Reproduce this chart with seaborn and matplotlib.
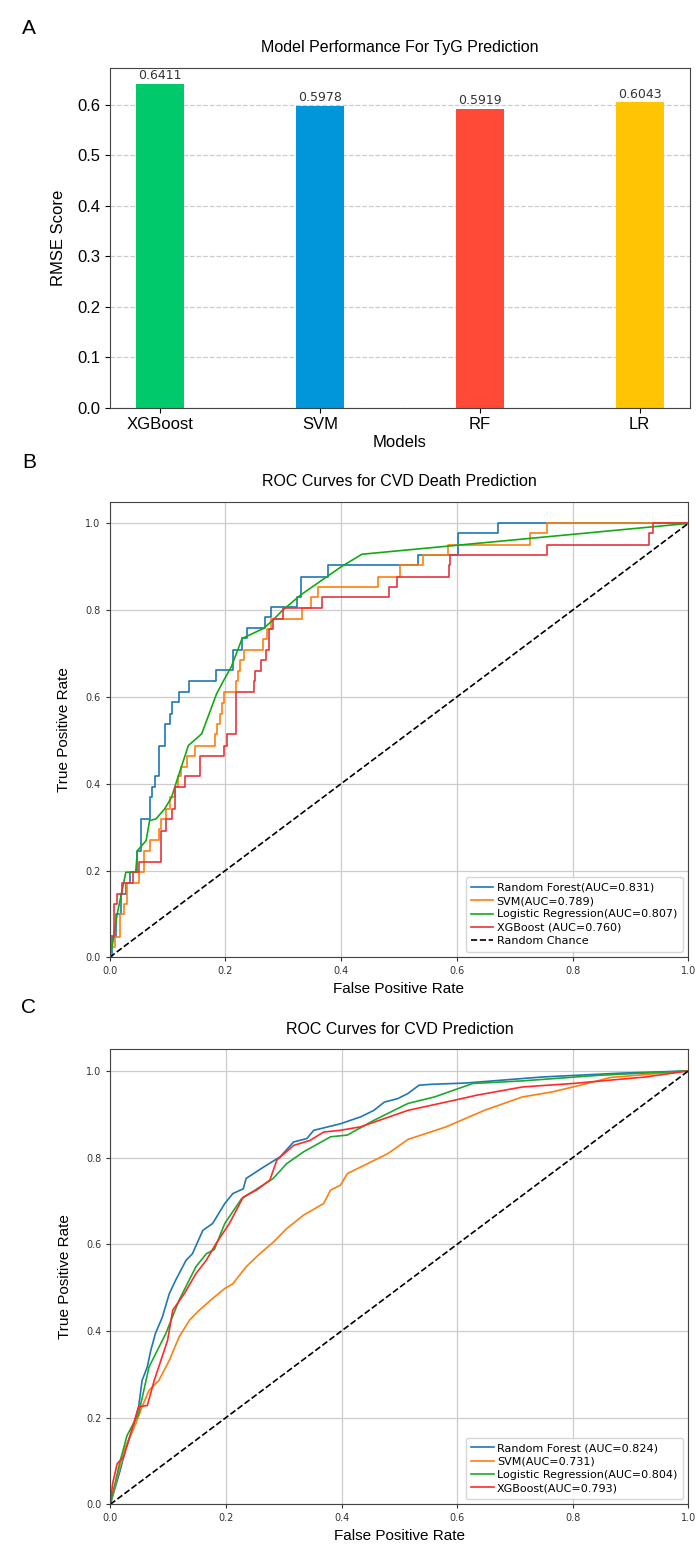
import numpy as np
import matplotlib
matplotlib.use("Agg")
import matplotlib.pyplot as plt
import seaborn as sns

# Panel A data
models = ["XGBoost", "SVM", "RF", "LR"]
rmse = [0.6411, 0.5978, 0.5919, 0.6043]
bar_colors = ["#00c96b", "#0096d9", "#ff4a38", "#ffc404"]

# Panel B data (step ROC curves: riser position / level after it)
b_rf_fpr = [0, 0.0035, 0.0105, 0.019, 0.028, 0.035, 0.047, 0.054, 0.070, 0.073, 0.079, 0.085, 0.086,
            0.095, 0.105, 0.108, 0.120, 0.137, 0.183, 0.213, 0.229, 0.237, 0.268, 0.278, 0.324, 0.330,
            0.377, 0.533, 0.602, 0.672, 1.0]
b_rf_tpr = [0, 0.046, 0.10, 0.146, 0.171, 0.196, 0.246, 0.319, 0.369, 0.392, 0.417, 0.442, 0.488,
            0.538, 0.561, 0.588, 0.612, 0.637, 0.662, 0.708, 0.735, 0.759, 0.785, 0.808, 0.831, 0.877,
            0.904, 0.927, 0.977, 1.0, 1.0]
b_svm_fpr = [0, 0.002, 0.010, 0.017, 0.025, 0.030, 0.051, 0.060, 0.069, 0.086, 0.089, 0.098, 0.105,
             0.1125, 0.118, 0.1225, 0.133, 0.1475, 0.1825, 0.185, 0.191, 0.194, 0.198, 0.2175, 0.222,
             0.226, 0.232, 0.265, 0.272, 0.278, 0.332, 0.348, 0.360, 0.464, 0.501, 0.541, 0.584, 0.726,
             0.756, 1.0]
b_svm_tpr = [0, 0.023, 0.046, 0.10, 0.123, 0.171, 0.196, 0.246, 0.271, 0.296, 0.319, 0.342, 0.369,
             0.392, 0.417, 0.438, 0.463, 0.488, 0.515, 0.538, 0.561, 0.585, 0.612, 0.637, 0.66,
             0.685, 0.708, 0.733, 0.757, 0.78, 0.805, 0.831, 0.853, 0.877, 0.904, 0.927, 0.951, 0.977,
             1.0, 1.0]
b_xgb_fpr = [0, 0.001, 0.0076, 0.012, 0.022, 0.040, 0.051, 0.088, 0.097, 0.107, 0.1125, 0.131, 0.156,
             0.197, 0.202, 0.219, 0.250, 0.252, 0.262, 0.270, 0.276, 0.282, 0.300, 0.367, 0.483, 0.496,
             0.586, 0.589, 0.756, 0.932, 0.940, 1.0]
b_xgb_tpr = [0, 0.05, 0.123, 0.146, 0.171, 0.196, 0.22, 0.292, 0.319, 0.342, 0.392, 0.417, 0.463,
             0.488, 0.515, 0.612, 0.637, 0.66, 0.685, 0.708, 0.757, 0.78, 0.805, 0.831, 0.853, 0.877,
             0.904, 0.927, 0.951, 0.977, 1.0, 1.0]
b_lr_fpr = [0, 0.005, 0.013, 0.028, 0.045, 0.048, 0.063, 0.069, 0.080, 0.095, 0.107, 0.118, 0.136,
            0.159, 0.171, 0.185, 0.197, 0.21, 0.229, 0.266, 0.282, 0.299, 0.33, 0.40, 0.436, 1.0]
b_lr_tpr = [0, 0.031, 0.10, 0.196, 0.196, 0.246, 0.269, 0.315, 0.319, 0.342, 0.369, 0.415, 0.488,
            0.515, 0.558, 0.608, 0.638, 0.669, 0.735, 0.758, 0.777, 0.80, 0.835, 0.90, 0.929, 1.0]

# Panel C data
c_rf_fpr = [0, 0.017, 0.026, 0.038, 0.049, 0.055, 0.064, 0.070, 0.078, 0.090, 0.102, 0.113, 0.131,
            0.142, 0.160, 0.177, 0.198, 0.212, 0.230, 0.235, 0.265, 0.294, 0.317, 0.340, 0.352, 0.398,
            0.433, 0.456, 0.474, 0.497, 0.515, 0.534, 0.554, 0.614, 0.747, 0.886, 1.0]
c_rf_tpr = [0, 0.078, 0.125, 0.171, 0.225, 0.286, 0.317, 0.355, 0.394, 0.432, 0.486, 0.517, 0.563,
            0.578, 0.632, 0.648, 0.694, 0.717, 0.728, 0.752, 0.778, 0.802, 0.836, 0.844, 0.863, 0.878,
            0.894, 0.909, 0.928, 0.936, 0.948, 0.967, 0.969, 0.972, 0.986, 0.995, 1.0]
c_svm_fpr = [0, 0.012, 0.026, 0.044, 0.055, 0.067, 0.084, 0.102, 0.119, 0.137, 0.154, 0.177, 0.198,
             0.212, 0.235, 0.256, 0.282, 0.305, 0.334, 0.369, 0.381, 0.398, 0.410, 0.445, 0.480, 0.515,
             0.581, 0.647, 0.713, 0.766, 0.813, 0.866, 0.912, 1.0]
c_svm_tpr = [0, 0.063, 0.132, 0.186, 0.225, 0.263, 0.286, 0.332, 0.386, 0.425, 0.448, 0.475, 0.498,
             0.509, 0.548, 0.575, 0.605, 0.636, 0.667, 0.694, 0.725, 0.736, 0.763, 0.786, 0.809, 0.842,
             0.871, 0.909, 0.94, 0.952, 0.967, 0.985, 0.99, 1.0]
c_lr_fpr = [0, 0.017, 0.029, 0.049, 0.067, 0.096, 0.119, 0.148, 0.166, 0.180, 0.198, 0.227, 0.282,
            0.305, 0.334, 0.381, 0.410, 0.456, 0.515, 0.561, 0.627, 0.713, 0.846, 1.0]
c_lr_tpr = [0, 0.10, 0.159, 0.209, 0.317, 0.394, 0.471, 0.548, 0.578, 0.588, 0.648, 0.705, 0.752,
            0.786, 0.813, 0.848, 0.852, 0.886, 0.925, 0.94, 0.971, 0.977, 0.99, 1.0]
c_xgb_fpr = [0, 0.004, 0.012, 0.023, 0.035, 0.049, 0.064, 0.076, 0.099, 0.108, 0.128, 0.148, 0.166,
             0.183, 0.206, 0.230, 0.253, 0.276, 0.288, 0.317, 0.346, 0.369, 0.398, 0.433, 0.515, 0.594,
             0.634, 0.713, 0.8, 0.926, 1.0]
c_xgb_tpr = [0, 0.048, 0.094, 0.109, 0.163, 0.225, 0.228, 0.286, 0.378, 0.448, 0.486, 0.532, 0.563,
             0.602, 0.648, 0.709, 0.725, 0.748, 0.794, 0.828, 0.84, 0.859, 0.863, 0.871, 0.909, 0.932,
             0.944, 0.963, 0.971, 0.986, 1.0]

chance = [0, 1]

b_labels = ["Random Forest(AUC=0.831)", "SVM(AUC=0.789)", "Logistic Regression(AUC=0.807)",
            "XGBoost (AUC=0.760)", "Random Chance"]
c_labels = ["Random Forest (AUC=0.824)", "SVM(AUC=0.731)", "Logistic Regression(AUC=0.804)",
            "XGBoost(AUC=0.793)"]

ARIAL = ["Liberation Sans", "DejaVu Sans"]
plt.rcParams["font.family"] = ["DejaVu Sans"]

fig = plt.figure(figsize=(6.96, 15.51), dpi=100)

# ---------------- Panel A ----------------
axA = fig.add_axes([0.1580, 0.7372, 0.8333, 0.2192])
sns.barplot(x=models, y=rmse, hue=models, palette=bar_colors, width=0.3, saturation=1,
            legend=False, ax=axA)
for cont in axA.containers:
    axA.bar_label(cont, fmt="%.4f", fontsize=9, color="#333333", padding=1)
axA.set_xlim(-0.315, 3.315)
axA.set_ylim(0, max(rmse) * 1.05)
axA.yaxis.grid(True, linestyle="--", color="#cccccc", linewidth=0.9)
axA.set_axisbelow(True)
axA.set_title("Model Performance For TyG Prediction", fontsize=11.5, family=ARIAL, pad=11)
axA.set_xlabel("Models", fontsize=12, family=ARIAL, labelpad=2)
axA.set_ylabel("RMSE Score", fontsize=12, family=ARIAL, labelpad=8)
for lab in axA.get_xticklabels() + axA.get_yticklabels():
    lab.set_fontfamily(ARIAL)
    lab.set_fontsize(12)
for sp in axA.spines.values():
    sp.set_color("#444444")

# ---------------- ROC panels ----------------
def style_roc(ax, title):
    ax.set_xlim(0, 1)
    ax.set_ylim(0, 1.05)
    ax.set_xticks(np.arange(0, 1.01, 0.2))
    ax.set_yticks(np.arange(0, 1.01, 0.2))
    ax.grid(True, color="#cccccc", linewidth=0.9)
    ax.set_axisbelow(True)
    ax.tick_params(labelsize=7, length=3, colors="#333333")
    ax.set_title(title, fontsize=11.5, family=ARIAL, pad=11)
    ax.set_xlabel("False Positive Rate", fontsize=11, family=ARIAL)
    ax.set_ylabel("True Positive Rate", fontsize=11, family=ARIAL, labelpad=10)
    for sp in ax.spines.values():
        sp.set_color("#444444")


axB = fig.add_axes([0.1576, 0.3828, 0.8312, 0.2937])
b_curves = [(b_rf_fpr, b_rf_tpr, "#1f77b4", "steps-post"),
            (b_svm_fpr, b_svm_tpr, "#ff7f0e", "steps-post"),
            (b_lr_fpr, b_lr_tpr, "#12aa12", "default"),
            (b_xgb_fpr, b_xgb_tpr, "#e8343c", "steps-post")]
for (fx, ty, col, ds), lab in zip(b_curves, b_labels):
    sns.lineplot(x=fx, y=ty, color=col, estimator=None, sort=False, drawstyle=ds,
                 linewidth=1.2, label=lab, ax=axB)
sns.lineplot(x=chance, y=chance, color="black", linestyle="--", linewidth=1.2,
             estimator=None, label=b_labels[4], ax=axB)
style_roc(axB, "ROC Curves for CVD Death Prediction")
axB.legend(loc="lower right", fontsize=8, handlelength=2.0, borderpad=0.5,
           labelspacing=0.3, handletextpad=0.3)

axC = fig.add_axes([0.1585, 0.0301, 0.8305, 0.2934])
c_curves = [(c_rf_fpr, c_rf_tpr, "#1f77b4"),
            (c_svm_fpr, c_svm_tpr, "#ff7f0e"),
            (c_lr_fpr, c_lr_tpr, "#1ea82e"),
            (c_xgb_fpr, c_xgb_tpr, "#ff2a2a")]
for (fx, ty, col), lab in zip(c_curves, c_labels):
    sns.lineplot(x=fx, y=ty, color=col, estimator=None, sort=False, linewidth=1.2,
                 label=lab, ax=axC)
sns.lineplot(x=chance, y=chance, color="black", linestyle="--", linewidth=1.2,
             estimator=None, ax=axC)
style_roc(axC, "ROC Curves for CVD Prediction")
axC.legend(loc="lower right", fontsize=8, handlelength=2.0, borderpad=0.5,
           labelspacing=0.3, handletextpad=0.3)

# panel letters
for letter, ypix in [("A", 28), ("B", 462), ("C", 1008)]:
    fig.text(29 / 696, 1 - ypix / 1551, letter, fontsize=15, family=ARIAL,
             ha="center", va="center")

fig.savefig("out.png", dpi=100)
